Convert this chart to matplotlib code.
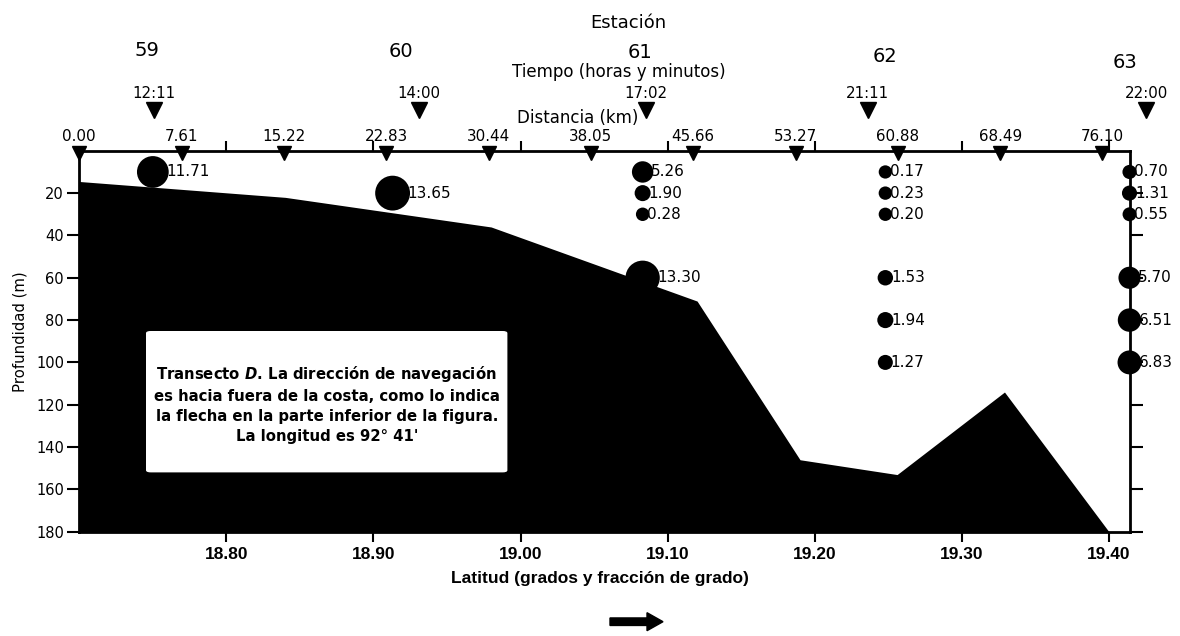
import matplotlib
matplotlib.use('Agg')
import matplotlib.pyplot as plt
from matplotlib.patches import FancyBboxPatch, FancyArrow

plt.rcParams['font.family'] = ['DejaVu Sans']
plt.rcParams['mathtext.fontset'] = 'custom'
plt.rcParams['mathtext.it'] = 'DejaVu Sans:italic:bold'
plt.rcParams['mathtext.rm'] = 'DejaVu Sans:bold'

# perfil del fondo (latitud, profundidad m)
bath_lat = [18.70, 18.84, 18.98, 19.12, 19.19, 19.256, 19.329, 19.40]
bath_depth = [14.5, 22, 36, 71, 146, 153, 114, 180]

# estaciones
stations = ['59', '60', '61', '62', '63']
station_lat = [18.750, 18.913, 19.083, 19.248, 19.414]
station_label_lat = [18.746, 18.919, 19.081, 19.248, 19.411]
times = ['12:11', '14:00', '17:02', '21:11', '22:00']
time_lat = [18.751, 18.931, 19.085, 19.236, 19.4255]

# muestras: indice de estacion, profundidad, valor
samp_station = [0, 1, 2, 2, 2, 2, 3, 3, 3, 3, 3, 3, 4, 4, 4, 4, 4, 4]
samp_depth = [10, 20, 10, 20, 30, 60, 10, 20, 30, 60, 80, 100, 10, 20, 30, 60, 80, 100]
samp_value = [11.71, 13.65, 5.26, 1.90, 0.28, 13.30,
              0.17, 0.23, 0.20, 1.53, 1.94, 1.27,
              0.70, 1.31, 0.55, 5.70, 6.51, 6.83]

dist_km = [0.00, 7.61, 15.22, 22.83, 30.44, 38.05, 45.66, 53.27, 60.88, 68.49, 76.10]
lat_ticks = [18.80, 18.90, 19.00, 19.10, 19.20, 19.30, 19.40]
depth_ticks = [20, 40, 60, 80, 100, 120, 140, 160, 180]

lat0 = 18.70
km_per_deg = 109.4


def lat2km(x):
    return (x - lat0) * km_per_deg


def km2lat(k):
    return lat0 + k / km_per_deg


W, H = 1180, 636
AX_L, AX_R, AX_T, AX_B = 79.3, 1129.5, 150.8, 531.7


def ay(px):
    # fila en pixeles -> fraccion de ejes
    return (AX_B - px) / (AX_B - AX_T)


arial = ['Liberation Sans', 'DejaVu Sans']

fig = plt.figure(figsize=(W / 100, H / 100), dpi=100)
ax = fig.add_axes([AX_L / W, 1 - AX_B / H, (AX_R - AX_L) / W, (AX_B - AX_T) / H])

ax.fill_between(bath_lat, bath_depth, 180, color='black', lw=0, zorder=1)
ax.set_xlim(18.70, 19.414)
ax.set_ylim(180, 0)

ax.set_xticks(lat_ticks)
ax.set_xticklabels(['%.2f' % v for v in lat_ticks])
ax.tick_params(axis='x', direction='out', length=7, width=1.5, top=True,
               labeltop=False, pad=4, labelsize=12.5)
for lbl in ax.get_xticklabels():
    lbl.set_family(arial)
    lbl.set_weight('bold')
ax.set_yticks(depth_ticks)
ax.tick_params(axis='y', direction='out', length=9, width=1.5, right=True,
               pad=2, labelsize=10.5)
for sp in ax.spines.values():
    sp.set_linewidth(2)

secax = ax.secondary_xaxis('top', functions=(lat2km, km2lat))
secax.set_xticks(dist_km)
secax.set_xticklabels(['%.2f' % d for d in dist_km])
secax.tick_params(length=0, pad=5, labelsize=10.9)
secax.spines['top'].set_visible(False)

# triangulos de distancia sobre el eje
ax.plot([km2lat(d) for d in dist_km], [1] * len(dist_km), 'v', color='k',
        ms=10, clip_on=False, zorder=6)

trans = ax.get_xaxis_transform()
ax.plot(time_lat, [ay(110)] * len(time_lat), 'v', color='k', ms=11,
        transform=trans, clip_on=False)
for t, x in zip(times, time_lat):
    ax.text(x, ay(94), t, transform=trans, ha='center', va='center', fontsize=10.8)

station_row = [51, 52, 53, 57, 63]
for s, x, r in zip(stations, station_label_lat, station_row):
    ax.text(x, ay(r), s, transform=trans, ha='center', va='center', fontsize=14)

# circulos de muestras, tamano segun valor
xs = [station_lat[i] for i in samp_station]
diam_pt = [(13 + 1.6 * v) * 0.72 for v in samp_value]
ax.scatter(xs, samp_depth, s=[d ** 2 for d in diam_pt], c='k', linewidths=0,
           zorder=5, clip_on=False)
for x, y, v, d in zip(xs, samp_depth, samp_value, diam_pt):
    ax.annotate('%.2f' % v, (x, y), xytext=(d / 2 - 1.6, 0), textcoords='offset points',
                ha='left', va='center', fontsize=11, zorder=4)

# recuadro de texto
bx0, bx1, by0, by1 = 146.7, 506.7, 331.7, 471.7
box = FancyBboxPatch(((bx0 - AX_L) / (AX_R - AX_L), ay(by1)),
                     (bx1 - bx0) / (AX_R - AX_L), ay(by0) - ay(by1),
                     boxstyle='round,pad=0,rounding_size=0.004',
                     transform=ax.transAxes, fc='white', ec='white', zorder=3)
ax.add_patch(box)
note = ("Transecto $D$. La dirección de navegación\n"
        "es hacia fuera de la costa, como lo indica\n"
        "la flecha en la parte inferior de la figura.\n"
        "La longitud es 92° 41'")
ax.text(((bx0 + bx1) / 2 - AX_L) / (AX_R - AX_L), ay(404), note, transform=ax.transAxes,
        ha='center', va='center', fontsize=10.7, fontweight='bold', linespacing=1.4,
        zorder=4)

fig.text(628 / W, 1 - 23 / H, 'Estación', ha='center', va='center', fontsize=13)
fig.text(619 / W, 1 - 72 / H, 'Tiempo (horas y minutos)', ha='center', va='center',
         fontsize=12)
fig.text(578 / W, 1 - 118 / H, 'Distancia (km)', ha='center', va='center', fontsize=12)
fig.text(20 / W, 1 - 332 / H, 'Profundidad (m)', rotation=90, ha='center', va='center',
         fontsize=10.7)
fig.text(600 / W, 1 - 578 / H, 'Latitud (grados y fracción de grado)', ha='center',
         va='center', fontsize=12.5, family=arial, weight='bold')

arrow = FancyArrow(6.10, (H - 621.7) / 100, 0.53, 0, width=0.075, head_width=0.18,
                   head_length=0.16, length_includes_head=True, color='k',
                   transform=fig.dpi_scale_trans)
fig.add_artist(arrow)

fig.savefig('out.png', dpi=100)
